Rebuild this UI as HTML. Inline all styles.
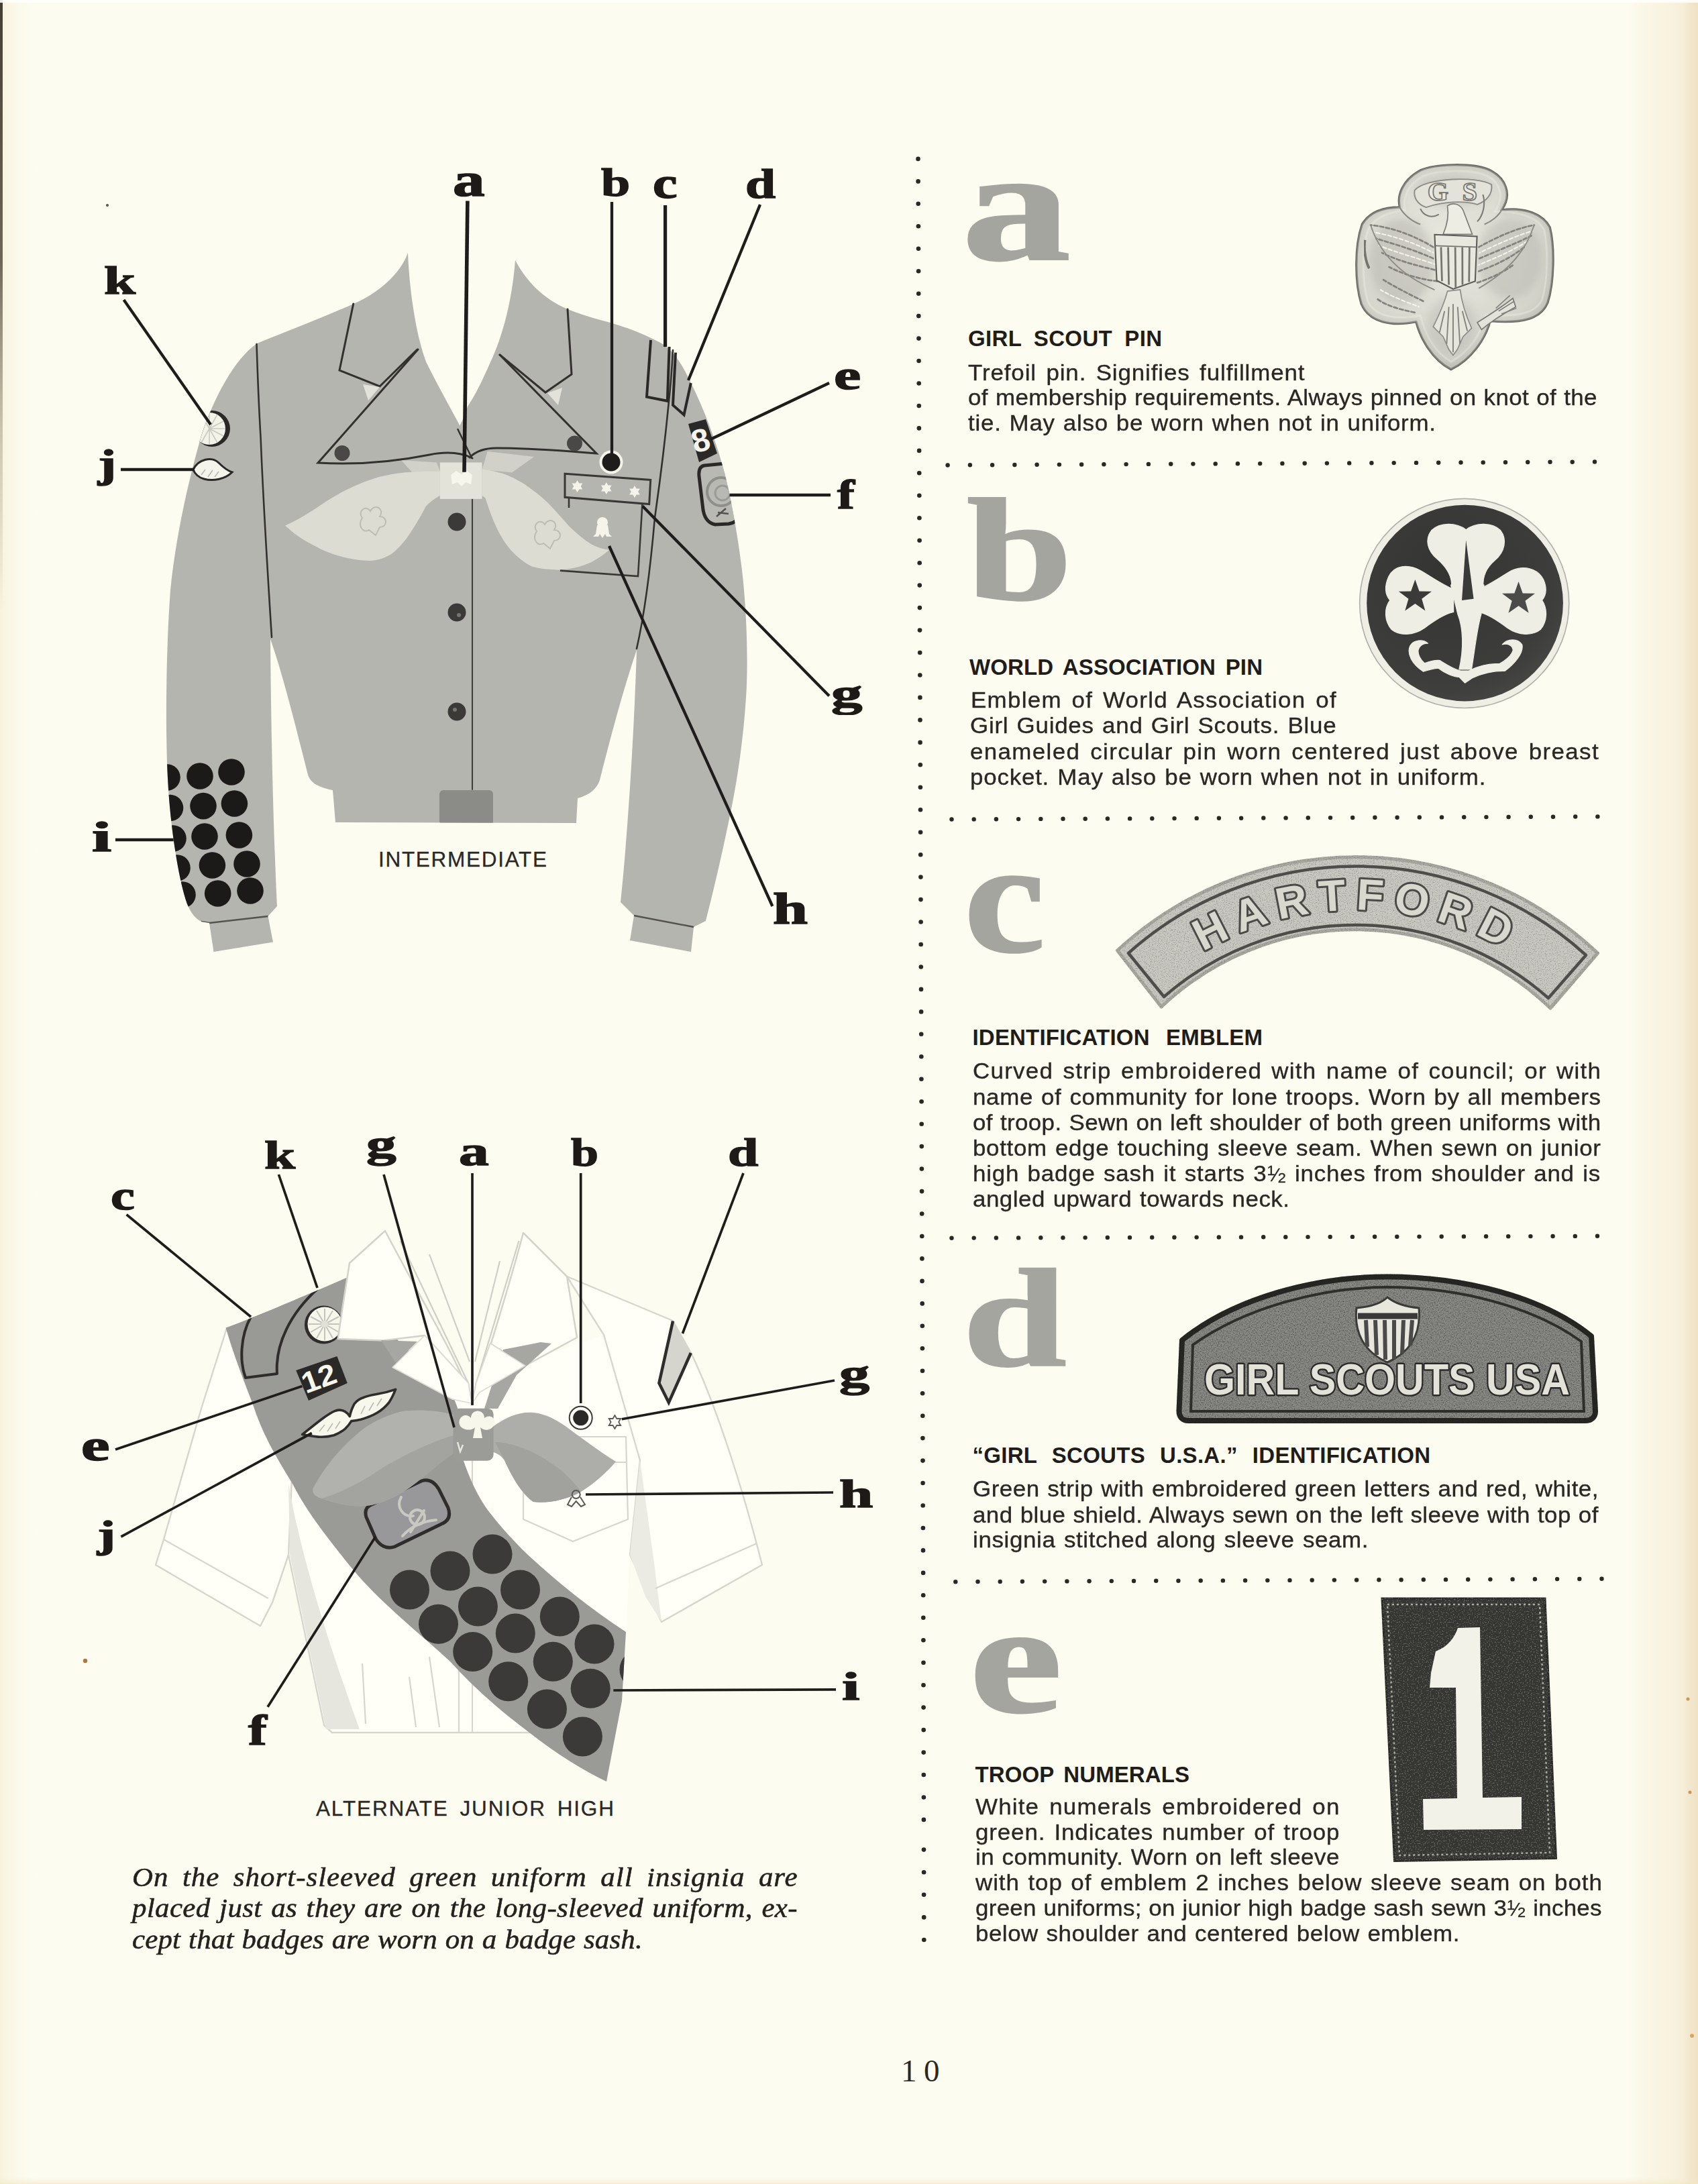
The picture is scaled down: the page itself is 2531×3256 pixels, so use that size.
<!DOCTYPE html>
<html><head><meta charset="utf-8"><title>Insignia page 10</title>
<style>
html,body{margin:0;padding:0;}
body{width:2531px;height:3256px;overflow:hidden;background:#fdfcf1;position:relative;font-family:"Liberation Sans",sans-serif;color:#24211e;}
#pg{position:absolute;left:0;top:0;width:2531px;height:3256px;overflow:hidden;}
svg.art{position:absolute;left:0;top:0;}
.t{position:absolute;white-space:nowrap;line-height:1;transform-origin:0 0;}
.j{text-align:justify;text-align-last:justify;}
.b{font-family:"Liberation Sans",sans-serif;font-size:33.6px;color:#2a2724;-webkit-text-stroke:.35px #2a2724;}
.h{font-family:"Liberation Sans",sans-serif;font-weight:bold;font-size:33px;color:#1f1c1a;}
.cap{font-family:"Liberation Sans",sans-serif;font-size:31.5px;color:#2a2724;-webkit-text-stroke:.3px #2a2724;}
.it{font-family:"Liberation Serif",serif;font-style:italic;font-size:40.5px;color:#24211e;-webkit-text-stroke:.55px #24211e;}
.lab{font-family:"Liberation Serif",serif;font-weight:bold;color:#1d1a18;-webkit-text-stroke:1.6px #1d1a18;}
.big{font-family:"Liberation Serif",serif;font-weight:bold;color:#a5a5a0;-webkit-text-stroke:3px #a5a5a0;}
.pn{font-family:"Liberation Serif",serif;font-size:47px;color:#2a2724;}
</style></head>
<body><div id="pg">
<svg class="art" width="2531" height="3256" viewBox="0 0 2531 3256">
<defs>
<filter id="grain" x="0" y="0" width="100%" height="100%"><feTurbulence type="fractalNoise" baseFrequency="0.9" numOctaves="2" seed="3" result="n"/><feColorMatrix in="n" type="matrix" values="0 0 0 0 0  0 0 0 0 0  0 0 0 0 0  0.9 0.9 0.9 0 -0.95"/><feComposite in2="SourceGraphic" operator="in"/></filter>
<clipPath id="jk"><path id="jkp" d="M608,377 C596,410 562,438 527,453 C470,478 420,497 383,512 C350,535 320,590 300,650 C280,720 262,800 254,880 C248,960 246,1080 250,1160 C254,1240 268,1320 280,1350 C285,1362 292,1370 300,1374 L312,1376 L318.5,1419 L407,1404.5 L399.5,1366 L413,1351 C408,1250 404,1100 403,953 C420,1000 440,1080 459,1155 C462,1166 474,1174 496,1178 L500,1226 L859,1227 L861,1190 C880,1185 890,1175 894,1163 C905,1120 925,1040 949,969 C945,1100 935,1250 925,1345 L945,1365 L939,1402 L1030,1419 L1034,1382 L1052,1373 C1058,1350 1075,1280 1087,1221 C1100,1160 1108,1100 1112,1040 C1116,980 1112,900 1106,850 C1100,800 1090,745 1080,705 C1068,660 1050,610 1026,563 C1015,540 1002,522 988,513 C960,497 930,487 906,480 C880,473 860,467 844,460 C810,445 785,420 768,388 C764,440 752,495 731,540 C720,565 708,590 697,606 L690,625 L685.4,634.5 C668,602 650,570 635.3,540 C620,500 610,430 608,377 Z"/></clipPath>
</defs>
<defs>
 <linearGradient id="rEdge" x1="0" x2="1" y1="0" y2="0"><stop offset="0" stop-color="#fbf8e8" stop-opacity="0"/><stop offset="0.3" stop-color="#faf5e3" stop-opacity="0.85"/><stop offset="0.8" stop-color="#f7efda"/><stop offset="0.86" stop-color="#f3e9d0"/><stop offset="1" stop-color="#eee1c4"/></linearGradient>
 <linearGradient id="lEdge" x1="0" x2="0" y1="0" y2="1"><stop offset="0" stop-color="#3a352c" stop-opacity="0.95"/><stop offset="0.12" stop-color="#4a4438" stop-opacity="0.8"/><stop offset="0.2" stop-color="#7a725f" stop-opacity="0.35"/><stop offset="0.28" stop-color="#7a725f" stop-opacity="0"/></linearGradient>
 <linearGradient id="lTint" x1="0" x2="1" y1="0" y2="0"><stop offset="0" stop-color="#f7f0d8" stop-opacity="0.8"/><stop offset="1" stop-color="#fdfcf1" stop-opacity="0"/></linearGradient>
 <linearGradient id="bEdge" x1="0" x2="0" y1="0" y2="1"><stop offset="0" stop-color="#f6ecd0" stop-opacity="0"/><stop offset="1" stop-color="#f3e6c2" stop-opacity="0.9"/></linearGradient>
</defs>
<g id="bg">
 <rect x="2420" y="0" width="111" height="3256" fill="url(#rEdge)"/>
 <rect x="0" y="0" width="60" height="3256" fill="url(#lTint)"/>
 <rect x="0" y="0" width="4" height="3256" fill="url(#lEdge)"/>
 <rect x="0" y="3246" width="2531" height="10" fill="url(#bEdge)" opacity="0.7"/>
 <rect x="0" y="0" width="2531" height="4" fill="#ffffff" opacity="0.9"/>
 <!-- specks -->
 <circle cx="160" cy="306" r="2" fill="#55524c"/><circle cx="127" cy="2476" r="3.2" fill="#b9743a"/>
 <circle cx="2516" cy="2533" r="2.5" fill="#c79a55"/><circle cx="2519" cy="2672" r="2.5" fill="#c79a55"/><circle cx="2522" cy="3035" r="3" fill="#d9a860"/>
</g>
<g id="fig1">
<use href="#jkp" fill="#b5b5b0"/>
<g clip-path="url(#jk)">
 <!-- buckle -->
 <rect x="655" y="1178" width="80" height="52" rx="6" fill="#8b8b88"/>
 <!-- waistband seam shading -->
 <!-- sleeve badge dots -->
 <g fill="#1c1a19">
  <circle cx="249" cy="1159" r="19.8"/><circle cx="298" cy="1157" r="19.8"/><circle cx="345" cy="1151" r="19.8"/>
  <circle cx="253.5" cy="1204.5" r="19.8"/><circle cx="303" cy="1201.6" r="19.8"/><circle cx="349.4" cy="1198" r="19.8"/>
  <circle cx="258" cy="1250" r="19.8"/><circle cx="305" cy="1247" r="19.8"/><circle cx="356.4" cy="1245" r="19.8"/>
  <circle cx="264" cy="1294" r="19.8"/><circle cx="316.4" cy="1290" r="19.8"/><circle cx="368" cy="1288" r="19.8"/>
  <circle cx="272" cy="1334" r="19.8"/><circle cx="324.7" cy="1332" r="19.8"/><circle cx="373" cy="1328" r="19.8"/>
 </g>
 <!-- cuff seam lines -->
 <path d="M300,1374 L312,1376 L399.5,1366" stroke="#55534f" stroke-width="2.5" fill="none"/>
 <path d="M945,1365 L1034,1382" stroke="#55534f" stroke-width="2.5" fill="none"/>
 <!-- k badge (sunburst) -->
 <circle cx="316" cy="639" r="27" fill="#2b2927"/>
 <circle cx="312" cy="639" r="24" fill="#f4f3e8"/>
 <g stroke="#c9c9c2" stroke-width="1.6"><path d="M312,639 L312,615 M312,639 L324,618 M312,639 L333,628 M312,639 L336,639 M312,639 L333,650 M312,639 L324,660 M312,639 L312,663 M312,639 L300,660 M312,639 L300,618"/></g>
 <!-- f badge -->
 <path d="M1050,694 L1080,691 C1088,692 1094,700 1095,710 L1100,768 C1100,776 1094,780 1086,781 L1066,782 C1056,780 1050,772 1048,760 L1042,710 C1041,700 1044,695 1050,694 Z" fill="#b9b9b3" stroke="#2b2927" stroke-width="5"/>
 <circle cx="1075" cy="733" r="21" fill="none" stroke="#8e8e8a" stroke-width="4"/>
 <circle cx="1077" cy="735" r="11" fill="none" stroke="#9a9a96" stroke-width="3"/>
 <path d="M1068,770 L1082,758 M1070,764 L1086,766" stroke="#55534f" stroke-width="2.5"/>
</g>
<!-- seams -->
<g fill="none" stroke="#33312e" stroke-width="2.6" stroke-linecap="round" stroke-linejoin="round">
 <path d="M382.5,513 C384,560 386,610 388.6,653 C392,740 398,840 405,950"/>
 <path d="M1003,522 C1001,560 998,590 996.5,603 C992,650 982,730 976,772 C971,830 962,910 949,967"/>
 <path d="M704,743 L704,1177" stroke-width="2" stroke="#3f3d3a"/>
</g>
<!-- scarf -->
<g>
 <path d="M598,686 L651,689.5 L656,703 L614.6,704.5 Z" fill="#d2d1c9"/>
 <path d="M726.7,673 L796,681 L763,704.5 L718.5,700 Z" fill="#d2d1c9"/>
 <path d="M655.8,702.7 C640,702.5 620,703 604.7,704.3 C590,706 578,708 565,711 C548,716 533,722 519,729 C500,738 484,749 469.5,758.7 C452,770 438,778 425,783.5 C434,792 443,799 453,805 C470,815 486,823 502.5,828 C520,833 536,836 552,836 C565,835 576,831 585,824.7 C595,817 604,806 611.3,795 C620,782 628,768 634.4,755.4 C641,748 648,743 655.8,739 Z" fill="#dcdcd3"/>
 <path d="M718.5,699.4 C729,700.5 740,703 749.8,706 C761,710 772,716 782.8,722.5 C794,730 805,739 815.8,748.8 C827,760 838,773 848.8,785 C860,796 871,805 881.7,811.5 C890,816 899,819 908,819.7 C900,827 891,833 881.7,837.9 C866,845 849,849 832.3,849.4 C818,849.5 805,848 792.7,844.5 C780,838 769,829 759.7,818 C750,806 742,792 736.6,778.5 C731,766 727,753 723.4,742.2 L718.5,739 Z" fill="#dcdcd3"/>
 <rect x="655.8" y="689.5" width="62.7" height="54.4" fill="#e4e3da"/>
 <path d="M672,708 l8,-6 l8,5 l8,-5 l8,6 l-2,14 l-8,-3 l-6,6 l-6,-6 l-8,3 z" fill="#f7f6ec"/>
 <!-- trefoil motifs -->
 <g fill="none" stroke="#bdbdb6" stroke-width="2">
  <path d="M540,772 c-8,-10 6,-20 12,-10 c6,-12 22,-4 14,8 c12,0 12,16 0,16 l-6,12 l-10,-8 c-8,6 -18,-6 -10,-18 z"/>
  <path d="M800,792 c-8,-10 6,-20 12,-10 c6,-12 22,-4 14,8 c12,0 12,16 0,16 l-6,12 l-10,-8 c-8,6 -18,-6 -10,-18 z"/>
 </g>
</g>
<!-- lapels and collar wings -->
<g fill="none" stroke="#33312e" stroke-width="3" stroke-linejoin="miter" stroke-linecap="round">
 <path d="M526.7,453 L506,552 L566,576 L622,521"/>
 <path d="M846,461 L852,558 L813,585 L745,529"/>
 <path d="M623,521 L474,690 C540,694 600,686 640,678 C670,672 690,676 704,683" fill="#b5b5b0"/>
 <path d="M745,529 L889,676 C840,672 780,668 740,668 C720,668 708,674 700,682" fill="#b5b5b0"/>
 <path d="M682.4,640 L702.5,681.3" stroke-width="2.5"/>
</g>
<path d="M541,573 L566,577 L549,597 Z" fill="#e3e2da"/>
<path d="M838,578 L816,586 L832,604 Z" fill="#e3e2da"/>
<!-- collar buttons -->
<circle cx="510" cy="675.5" r="11.5" fill="#4a4846"/><circle cx="856.5" cy="661" r="11.5" fill="#4a4846"/>
<!-- front buttons -->
<g fill="#3c3a38"><circle cx="681" cy="778" r="13.5"/><circle cx="681" cy="913" r="13.5"/><circle cx="681" cy="1061" r="13.5"/></g>
<g fill="#77756f"><circle cx="684" cy="917" r="3"/><circle cx="678" cy="1058" r="3"/></g>
<!-- pocket -->
<g fill="none" stroke="#3a3835" stroke-width="2.6" stroke-linejoin="miter">
 <path d="M848,741 L848,757"/>
 <path d="M957.4,751.6 L951,859 L835,850.6"/>
 <path d="M842,706.3 L969.7,715.4 L967.7,751.6 L842,741.3 Z" fill="#b5b5b0" stroke-width="3"/>
</g>
<g fill="#f5f4ea">
 <path id="st6" d="M0,-9 L2.6,-4.5 L7.8,-4.5 L5.2,0 L7.8,4.5 L2.6,4.5 L0,9 L-2.6,4.5 L-7.8,4.5 L-5.2,0 L-7.8,-4.5 L-2.6,-4.5 Z" transform="translate(860.5,725)"/>
 <use href="#st6" x="43.3" y="3"/><use href="#st6" x="85.5" y="8"/>
 <!-- h emblem -->
 <circle cx="898" cy="779" r="8"/><path d="M890,783 L906,783 L908,796 L912,800 L904,800 L902,796 L898,802 L894,796 L892,800 L884,800 L888,796 Z"/>
</g>
<!-- b pin -->
<circle cx="911" cy="689" r="17.5" fill="#f5f4ea"/><circle cx="911" cy="689" r="13.5" fill="#1f1d1b"/>
<!-- shoulder patches c,d -->
<g fill="none" stroke="#2b2927" stroke-width="4" stroke-linejoin="miter">
 <path d="M970,507 L964,591.6 L994.8,597.8 L997.6,517"/>
 <path d="M1007,525.7 L1003,604 L1019.5,618.4 L1029.8,571"/>
</g>
<!-- 8 patch -->
<path d="M1026,632 L1052,625 L1069,676 L1042,689 Z" fill="#2b2927"/>
<text x="0" y="0" transform="translate(1036,676) rotate(-16)" font-family="Liberation Sans, sans-serif" font-weight="bold" font-size="48" fill="#f5f4ea">8</text>
<!-- j badge leaf -->
<path d="M288,700 C296,684 316,680 326,690 C334,698 340,702 346,704 C336,714 318,718 304,714 C296,712 290,706 288,700 Z" fill="#f5f4ea" stroke="#2b2927" stroke-width="3"/>
<path d="M300,708 l6,-8 M310,711 l7,-10 M320,711 l6,-8" stroke="#b9b9b3" stroke-width="1.6"/>
<!-- leader lines -->
<g stroke="#1f1d1b" stroke-width="4.3" stroke-linecap="butt" fill="none">
 <path d="M696.9,299.5 L692,703.7" stroke-width="5.6"/><path d="M912,301 L912,678"/><path d="M991.6,306 L991.6,517" stroke-width="5.2"/>
 <path d="M1133,305 L1026,567"/><path d="M1236,571 L1059,655"/><path d="M1087.5,738 L1238,738"/>
 <path d="M957.7,754.5 L1236,1037.6"/><path d="M908,814 L1151.4,1351"/>
 <path d="M172,1252 L258.7,1252"/><path d="M180,700 L290,700"/><path d="M184.5,447 L314,633"/>
</g>
</g>
<g id="fig2">
<!-- blouse body -->
<g fill="#fffff7" stroke="#d6d6ce" stroke-width="2.4" stroke-linejoin="round">
 <path d="M436,2180 L430,2318 L483,2572 L495,2583 L905,2583 L933,2436 L939,2318 L954,2177 L900,1990 L700,2060 L500,1990 Z" stroke="none"/>
 <path d="M430,2318 L483,2572 L495,2583 L905,2583" fill="none"/>
 <!-- left sleeve -->
 <path d="M338,1980 L300,2100 L244,2295 L232,2333 L388,2424 L406,2389 L430,2318 L436,2180 L425,2060 Z"/>
 <!-- right sleeve -->
 <path d="M845,1903 L1003,1969 L1030,2017 C1070,2100 1110,2230 1136,2333 L986,2418 L939,2318 L954,2177 L900,1990 Z"/>
</g>
<!-- body shadow -->
<path d="M430,2212 L432,2318 L486,2578 L536,2578 C500,2480 450,2330 430,2212 Z" fill="#e6e6df"/>
<path d="M939,2318 L962,2380 L986,2418 L975,2330 L954,2177 Z" fill="#ebebe4"/>
<!-- cuff fold lines, pocket, placket -->
<g fill="none" stroke="#d6d6ce" stroke-width="2.2">
 <path d="M244,2295 L400,2383"/><path d="M977,2368 L1128,2301"/>
 <path d="M780,2142 L933,2142 L936,2265 L854,2298 L780,2265 Z"/>
 <path d="M780,2180 L934,2180"/>
 <path d="M704,2170 L704,2583"/><path d="M684,2200 L684,2583"/>
 <path d="M540,2480 L545,2570 M640,2470 L655,2575 M610,2500 L620,2575"/>
</g>
<!-- sash -->
<defs><clipPath id="sashc"><path id="sashp" d="M336.6,1979.6 C390,1960 470,1925 521,1903 C545,1950 600,2010 650,2050 C680,2075 694,2120 690,2175 C700,2205 712,2230 726,2250 C745,2275 765,2297 789,2320 C830,2358 880,2398 933,2433 L927,2536 L904,2656 C870,2640 830,2615 789,2583 C745,2550 705,2515 671,2477 C620,2430 565,2388 522,2335 C486,2290 458,2255 436,2212 C410,2170 390,2135 377,2094 C360,2050 345,2010 336.6,1979.6 Z"/></clipPath></defs>
<use href="#sashp" fill="#9a9a96"/>
<g clip-path="url(#sashc)">
 <!-- curved strip -->
 <path d="M374,1963 C358,1992 357,2030 366,2054 L413,2048 C410,2005 432,1958 475,1920 L440,1930 Z" fill="#999995" stroke="#2f2d2b" stroke-width="4" stroke-linejoin="round"/>
 <!-- f badge -->
 <path d="M552,2244 L628,2208 C640,2204 648,2210 654,2220 L668,2248 C672,2260 668,2268 658,2272 L588,2306 C576,2310 566,2304 560,2294 L546,2262 C543,2252 546,2247 552,2244 Z" fill="#98989a" stroke="#2f2d2b" stroke-width="5"/>
 <g fill="none" stroke="#c9c9c2" stroke-width="4" stroke-linecap="round">
  <path d="M598,2232 C590,2246 600,2262 616,2260"/><circle cx="622" cy="2262" r="11"/><path d="M600,2290 C612,2276 630,2268 650,2266"/><path d="M612,2284 L632,2252"/>
 </g>
 <!-- dots -->
 <g fill="#3b3a38">
  <circle cx="734" cy="2317" r="29.5"/><circle cx="671" cy="2342" r="29.5"/><circle cx="610.5" cy="2370" r="29.5"/>
  <circle cx="775.5" cy="2370" r="29.5"/><circle cx="712.4" cy="2395" r="29.5"/><circle cx="653.5" cy="2421.3" r="29.5"/>
  <circle cx="834.3" cy="2410" r="29.5"/><circle cx="768.3" cy="2435" r="29.5"/><circle cx="704.7" cy="2462.5" r="29.5"/>
  <circle cx="886" cy="2451" r="29.5"/><circle cx="824.3" cy="2477.3" r="29.5"/><circle cx="757.7" cy="2506.7" r="29.5"/>
  <circle cx="880.2" cy="2517.3" r="29.5"/><circle cx="815.4" cy="2548" r="29.5"/><circle cx="868.4" cy="2589" r="29.5"/>
  <circle cx="953" cy="2489" r="29.5"/>
 </g>
</g>
<!-- round badge k -->
<circle cx="482.4" cy="1975" r="28.5" fill="#2f2d2b"/><circle cx="484" cy="1974" r="25.5" fill="#f8f7ec"/>
<g stroke="#c4c4bc" stroke-width="2"><path d="M484,1974 L484,1951 M484,1974 L496,1954 M484,1974 L505,1963 M484,1974 L508,1974 M484,1974 L505,1986 M484,1974 L496,1995 M484,1974 L484,1998 M484,1974 L472,1995 M484,1974 L463,1986 M484,1974 L460,1974 M484,1974 L463,1963 M484,1974 L472,1954"/></g>
<circle cx="484" cy="1974" r="5" fill="#e2e1d8"/>
<!-- 12 patch -->
<path d="M441.2,2043 L502.4,2022 L517.8,2062 L460,2088 Z" fill="#2b2927"/><text transform="translate(456,2078) rotate(-20)" font-family="Liberation Sans, sans-serif" font-weight="bold" font-size="44" textLength="52" lengthAdjust="spacingAndGlyphs" fill="#f8f7ec">12</text>
<!-- wings j -->
<path d="M450.6,2138.6 C460,2131 470,2123 478.9,2116.2 C486,2111 493,2106 500.1,2103.2 C505,2101.5 510,2102 514.2,2104.4 C517,2106 519.5,2108.5 521.3,2111.5 C523,2104 525.5,2097.5 528.4,2092.6 C532,2088 537,2085 542.5,2083.2 C548,2081 555,2079.5 561.3,2078.5 C571,2077 581,2074.5 589.6,2071.4 C587,2078 584,2084.5 580.2,2090.3 C575,2097 568.5,2102.5 561.3,2106.8 C554,2111 546,2114 537.8,2116.2 C533,2117.3 528,2118 523.7,2118.6 C521,2123 518,2127 514.2,2130.3 C509,2134.5 503.5,2137.7 497.7,2139.8 C490,2142 482,2142.7 474.2,2142.1 C466,2141.5 458,2140.2 450.6,2138.6 Z" fill="#f8f7ec" stroke="#2f2d2b" stroke-width="3.6" stroke-linejoin="round"/>
<g stroke="#b9b9b2" stroke-width="1.6" fill="none"><path d="M476,2134 l8,-10 M488,2134 l8,-12 M500,2130 l7,-11 M538,2108 l6,-12 M550,2103 l7,-12 M562,2096 l7,-11"/></g>
<!-- collars (white, over sash) -->
<g fill="#fffff7" stroke="#d3d3cb" stroke-width="2.5" stroke-linejoin="round">
 <path d="M574,1835 L521,1883 L512,1940 L503.6,1996 L571,1998.5 L633,1991 L698,2062 L703,2092 C690,2040 640,1960 574,1835 Z"/>
 <path d="M780,1838 L845,1903 L860,1994 L782.8,2036 L731,2003 L709.8,2062 L704,2092 C720,2040 750,1950 780,1838 Z"/>
</g>
<!-- neck lines -->
<g fill="none" stroke="#cfcfc7" stroke-width="2.2"><path d="M596.7,1850 L698,2062 L703,2092"/><path d="M773.4,1850 L709.8,2062 L704,2092"/><path d="M640,1870 L700,2030"/><path d="M745,1880 L708,2030"/></g>
<!-- scarf upper bands -->
<path d="M568,1998 L622,2000 L590,2032 Z" fill="#a6a6a2"/>
<path d="M750,2012 L806,2001 L822,2003 L770,2050 L742,2100 L722,2100 Z" fill="#a6a6a2"/>
<!-- collar wings (white kites) -->
<g fill="#fffff7" stroke="#dcdcd4" stroke-width="1.5" stroke-linejoin="round">
 <path d="M633,1991 L585,2038.5 L674,2086 L703,2092 L698,2062 Z"/>
 <path d="M731,2003 L782.8,2036 L714.5,2076 L704,2092 L709.8,2062 Z"/>
</g>
<!-- scarf -->
<g>
 <path d="M676,2109 C650,2102 620,2101 597,2104.5 C570,2112 552,2122 538,2133 C505,2160 482,2190 467,2218 C464,2226 470,2232 480,2234 C505,2243 528,2248 553,2244 C590,2236 615,2215 636,2198 C655,2182 668,2172 678,2165 Z" fill="#b1b1ad"/>
 <path d="M676,2140 C640,2150 590,2175 560,2195 C530,2215 500,2228 480,2234 C505,2243 528,2248 553,2244 C590,2236 615,2215 636,2198 C655,2182 668,2172 678,2165 Z" fill="#a3a39f"/>
 <path d="M733,2128 C755,2112 775,2104 795,2106 C815,2108 832,2118 848,2130 C870,2146 895,2165 918,2179 C905,2195 885,2212 866,2224 C845,2236 815,2242 795,2239 C775,2225 760,2195 752,2177 C745,2168 738,2165 733,2165 Z" fill="#adada9"/>
 <path d="M738,2150 C770,2150 810,2170 840,2195 C850,2205 860,2215 866,2224 C845,2236 815,2242 795,2239 C775,2225 760,2195 752,2177 Z" fill="#a1a19d"/>
 <rect x="675.6" y="2099.7" width="60" height="78" rx="9" fill="#9b9b97"/>
 <path d="M686,2126 c-6,-12 8,-22 16,-12 c0,-14 20,-14 20,0 c10,-8 22,4 12,14 c-6,6 -14,4 -18,0 l3,16 l-14,0 l3,-16 c-6,6 -18,4 -22,-2 z" fill="#f8f7ec"/>
 <path d="M682,2150 l4,14 l4,-10" stroke="#e8e7de" stroke-width="2.5" fill="none"/>
</g>
<!-- d strip -->
<path d="M1003,1969.5 L1029.8,2017 L996.8,2091 L982.4,2062 Z" fill="#d5d5cd"/>
<path d="M1003,1969.5 L982.4,2062 L996.8,2091 L1029.8,2017" fill="none" stroke="#2f2d2b" stroke-width="4.5" stroke-linejoin="miter"/>
<!-- b pin, star, h emblem -->
<circle cx="865.7" cy="2113.8" r="17" fill="#fffff7" stroke="#3a3836" stroke-width="2"/><circle cx="865.7" cy="2113.8" r="11.5" fill="#2b2927"/>
<path d="M0,-10 L2.9,-5 L8.7,-5 L5.8,0 L8.7,5 L2.9,5 L0,10 L-2.9,5 L-8.7,5 L-5.8,0 L-8.7,-5 L-2.9,-5 Z" transform="translate(916.4,2120)" fill="#fffff7" stroke="#5a5855" stroke-width="1.8"/>
<g fill="none" stroke="#5a5855" stroke-width="2"><circle cx="858.7" cy="2228" r="6"/><path d="M852,2232 L846,2243 L852,2246 L858.7,2238 L866,2246 L872,2243 L865,2232"/></g>
<!-- leader lines -->
<g stroke="#1f1d1b" stroke-width="3.7" fill="none">
 <path d="M188.6,1810.8 L374,1963.3"/><path d="M415.4,1751 L473,1920"/><path d="M572,1751 L677,2128"/>
 <path d="M704,1749 L704,2095"/><path d="M865.7,1749 L865.7,2092"/><path d="M1108,1749 L1017.4,1988"/>
 <path d="M1244,2058 L926.7,2115.8"/><path d="M873,2228 L1242,2225"/><path d="M914.4,2520 L1246,2518.8"/>
 <path d="M399,2544.8 L559.7,2291"/><path d="M180.4,2291 L464.8,2136.5"/><path d="M172,2161 L450.4,2066.4"/>
</g>
</g>
<g id="photos">
<defs>
 <radialGradient id="pinG" cx="0.45" cy="0.4" r="0.7"><stop offset="0" stop-color="#e9e8df"/><stop offset="0.7" stop-color="#d6d6cd"/><stop offset="1" stop-color="#bdbdb5"/></radialGradient>
 <radialGradient id="wpG" cx="0.4" cy="0.35" r="0.8"><stop offset="0" stop-color="#343433"/><stop offset="0.7" stop-color="#3d3d3b"/><stop offset="1" stop-color="#4c4c49"/></radialGradient>
 <filter id="soft"><feGaussianBlur stdDeviation="1.2"/></filter>
 <filter id="soft3" x="-20%" y="-20%" width="140%" height="140%"><feGaussianBlur stdDeviation="28"/></filter>
 <filter id="soft2"><feGaussianBlur stdDeviation="0.7"/></filter>
 <filter id="fab" x="-5%" y="-5%" width="110%" height="110%"><feTurbulence type="fractalNoise" baseFrequency="0.55" numOctaves="2" seed="7" result="n"/><feColorMatrix in="n" type="matrix" values="0 0 0 0 0  0 0 0 0 0  0 0 0 0 0  1.6 0 0 0 -0.62" result="a"/><feComposite in="a" in2="SourceAlpha" operator="in" result="g"/><feFlood flood-color="#2a2a28" result="c"/><feComposite in="c" in2="g" operator="in" result="dk"/><feMerge><feMergeNode in="SourceGraphic"/><feMergeNode in="dk"/></feMerge></filter>
 <filter id="fabL" x="-5%" y="-5%" width="110%" height="110%"><feTurbulence type="fractalNoise" baseFrequency="0.6" numOctaves="2" seed="11" result="n"/><feColorMatrix in="n" type="matrix" values="0 0 0 0 0  0 0 0 0 0  0 0 0 0 0  1.5 0 0 0 -0.7" result="a"/><feComposite in="a" in2="SourceAlpha" operator="in" result="g"/><feFlood flood-color="#55554f" result="c"/><feComposite in="c" in2="g" operator="in" result="dk"/><feMerge><feMergeNode in="SourceGraphic"/><feMergeNode in="dk"/></feMerge></filter>
 <filter id="fabW" x="-5%" y="-5%" width="110%" height="110%"><feTurbulence type="fractalNoise" baseFrequency="0.5" numOctaves="2" seed="5" result="n"/><feColorMatrix in="n" type="matrix" values="0 0 0 0 0  0 0 0 0 0  0 0 0 0 0  1.8 0 0 0 -0.95" result="a"/><feComposite in="a" in2="SourceAlpha" operator="in" result="g"/><feFlood flood-color="#8a8a86" result="c"/><feComposite in="c" in2="g" operator="in" result="lt"/><feMerge><feMergeNode in="SourceGraphic"/><feMergeNode in="lt"/></feMerge></filter>
</defs>

<!-- (a) trefoil pin : coordinates in 4.7167x zoom space -->
<g transform="translate(1990,220) scale(0.21201)">
 <path id="tref" d="M455,420 C435,340 470,230 600,160 C700,115 960,105 1080,155 C1200,210 1250,330 1170,440 C1300,420 1450,450 1510,560 C1545,700 1540,950 1495,1090 C1450,1200 1330,1240 1090,1220 C1060,1340 960,1490 815,1560 C680,1490 600,1340 570,1225 C400,1260 240,1230 185,1100 C140,950 135,700 190,540 C250,440 370,420 455,420 Z" fill="url(#pinG)" stroke="#6f6d68" stroke-width="16" stroke-linejoin="round"/>
 <path d="M490,440 C475,350 510,260 620,200 C720,160 950,150 1060,195 C1160,240 1195,340 1125,450 C1280,450 1420,480 1470,580 C1500,720 1495,940 1455,1070 C1410,1160 1300,1195 1060,1175 C1030,1310 940,1440 815,1505 C700,1440 630,1310 600,1180 C430,1215 280,1190 230,1080 C190,940 185,720 235,570 C290,480 390,455 490,440 Z" fill="none" stroke="#f3f2e9" stroke-width="14" opacity="0.8"/>
 <clipPath id="trefc"><use href="#tref"/></clipPath>
 <g clip-path="url(#trefc)">
  <use href="#tref" fill="none" stroke="#8f8d88" stroke-width="60" opacity="0.55" filter="url(#soft3)"/>
  <ellipse cx="470" cy="800" rx="230" ry="300" fill="#a3a19c" opacity="0.35" filter="url(#soft3)"/>
  <ellipse cx="1230" cy="780" rx="230" ry="280" fill="#a3a19c" opacity="0.3" filter="url(#soft3)"/>
  <ellipse cx="830" cy="300" rx="260" ry="110" fill="#a3a19c" opacity="0.3" filter="url(#soft3)"/>
  <ellipse cx="820" cy="1250" rx="170" ry="200" fill="#a3a19c" opacity="0.25" filter="url(#soft3)"/>
 </g>
 <path d="M1170,440 C1150,480 1100,520 1050,540 M455,420 C480,470 540,520 600,540" fill="none" stroke="#8d8b86" stroke-width="10"/>
 <!-- banner + GS -->
 <path d="M560,300 C640,210 1000,200 1100,260 C1110,330 1060,380 1000,400 C900,370 760,380 640,420 C580,400 550,350 560,300 Z" fill="#e4e3da" stroke="#8d8b86" stroke-width="9"/>
 <text x="650" y="375" font-family="Liberation Serif, serif" font-weight="bold" font-size="190" fill="#ecebe2" stroke="#77756f" stroke-width="8" textLength="350">GS</text>
 <path d="M1040,330 C1060,400 1040,480 1000,520" fill="none" stroke="#7d7b76" stroke-width="10"/>
 <path d="M600,430 C620,480 680,500 730,470" fill="none" stroke="#7d7b76" stroke-width="10"/>
 <!-- eagle head/neck -->
 <path d="M790,410 C830,380 880,400 900,440 L965,610 L760,610 C790,540 800,470 790,410 Z" fill="#eeede4" stroke="#7d7b76" stroke-width="8"/>
 <!-- wings -->
 <g fill="none" stroke="#85837e" stroke-width="13" stroke-linecap="round" stroke-dasharray="26 16">
  <path d="M690,700 C560,620 400,560 250,545"/><path d="M690,780 C560,720 420,680 290,640"/><path d="M700,860 C580,830 450,800 330,740"/><path d="M720,940 C620,930 500,900 380,840"/>
  <path d="M620,1080 C520,1030 420,980 340,930"/><path d="M560,1160 C470,1140 370,1120 290,1060"/>
  <path d="M1010,700 C1120,640 1260,570 1400,545"/><path d="M1015,780 C1130,730 1260,680 1380,620"/><path d="M1010,870 C1120,830 1230,780 1330,700"/><path d="M1000,950 C1090,920 1180,880 1260,820"/>
 </g>
 <g fill="none" stroke="#f4f3ea" stroke-width="10" stroke-linecap="round" stroke-dasharray="26 16" stroke-dashoffset="20">
  <path d="M690,740 C560,670 410,620 270,595"/><path d="M700,820 C570,775 440,740 310,690"/><path d="M590,1120 C500,1085 400,1050 320,1000"/>
  <path d="M1015,740 C1130,685 1260,625 1390,585"/><path d="M1010,825 C1120,780 1240,730 1350,660"/>
 </g>
 <path d="M250,545 C300,700 420,880 700,1000 M1400,545 C1350,700 1250,850 1010,990" fill="none" stroke="#8d8b86" stroke-width="9"/>
 <!-- shield -->
 <path d="M700,612 L998,625 L985,940 L830,995 L715,935 Z" fill="#e9e8df" stroke="#5f5d59" stroke-width="10"/>
 <g stroke="#76746f" stroke-width="13"><path d="M745,700 L752,940 M795,700 L800,965 M845,700 L848,985 M895,700 L896,965 M945,700 L942,945"/></g>
 <path d="M705,690 L995,700" stroke="#76746f" stroke-width="8"/>
 <!-- legs / tail / arrows -->
 <path d="M790,1010 C770,1090 730,1180 690,1260 L760,1330 L800,1420 L830,1460 L860,1420 L900,1330 L960,1270 C920,1180 890,1090 880,1000 Z" fill="#e6e5dc" stroke="#8d8b86" stroke-width="8"/>
 <g stroke="#85837e" stroke-width="9" fill="none"><path d="M830,1100 L830,1440 M800,1120 L785,1380 M862,1120 L878,1380 M770,1150 L735,1300 M895,1150 L930,1290"/></g>
 <path d="M1000,1230 C1080,1180 1160,1130 1250,1060 L1270,1120 C1180,1170 1100,1220 1030,1280 Z" fill="#e4e3da" stroke="#7d7b76" stroke-width="8"/>
 <g stroke="#85837e" stroke-width="8"><path d="M1130,1130 L1230,1040 M1150,1150 L1260,1080 M1170,1170 L1275,1130"/></g>
 <path d="M210,650 C200,720 215,800 240,850" fill="none" stroke="#77756f" stroke-width="18" filter="url(#soft)"/>
</g>

<!-- (b) world association pin : coordinates in 4.8514x zoom space -->
<g transform="translate(2010,730) scale(0.20613)">
 <circle cx="838" cy="822" r="757" fill="#efeee5" stroke="#b1b0a9" stroke-width="8"/>
 <circle cx="842" cy="820" r="710" fill="url(#wpG)"/>
 <g fill="#efeee4" stroke="#efeee4" stroke-width="6" stroke-linejoin="round">
  <!-- top lobe -->
  <path d="M745,700 C750,640 720,570 640,500 C570,440 550,360 600,295 C660,235 780,235 850,290 C920,235 1040,235 1100,295 C1150,360 1130,450 1060,510 C990,570 970,640 975,700 Z"/>
  <!-- right lobe -->
  <path d="M940,720 C1020,690 1100,630 1180,585 C1270,545 1370,570 1410,650 C1440,720 1425,770 1400,800 C1440,860 1440,950 1390,1010 C1330,1060 1230,1055 1150,1000 C1080,950 1010,900 940,885 Z"/>
  <!-- left lobe -->
  <path d="M760,720 C680,690 600,630 520,585 C430,535 330,545 290,630 C255,710 270,765 300,800 C255,860 260,950 310,1010 C370,1060 470,1055 550,1000 C620,950 690,900 760,885 Z"/>
  <!-- center + stem -->
  <path d="M740,690 L980,690 L960,900 C930,1000 915,1150 890,1300 L800,1300 C835,1150 830,1000 790,900 Z"/>
  <!-- base scroll -->
  <path d="M575,1112 C540,1080 470,1085 445,1130 C420,1190 460,1260 540,1315 C590,1300 630,1290 650,1292 C700,1330 760,1355 800,1355 L842,1398 L900,1360 C990,1320 1070,1310 1130,1312 C1200,1260 1270,1180 1255,1120 C1225,1075 1150,1075 1112,1120 C1150,1110 1185,1125 1190,1160 C1180,1200 1130,1240 1090,1260 C1020,1255 940,1275 870,1310 L810,1310 C760,1300 700,1260 660,1235 C620,1230 580,1245 550,1255 C520,1230 500,1190 505,1160 C515,1125 545,1110 575,1112 Z"/>
 </g>
 <g fill="#3a3a39">
  <path d="M850,365 L905,790 L820,800 Z"/>
  <path id="st5" d="M0,-125 L30,-40 L119,-39 L48,14 L73,101 L0,50 L-73,101 L-48,14 L-119,-39 L-30,-40 Z" transform="translate(482,775)"/>
  <use href="#st5" x="748" y="15" fill="#4b4b49"/>
 </g>
</g>

<!-- (c) HARTFORD arc : center (2022,1803) R 524/420 -->
<g>
 <path id="arcband" d="M1665.5,1417 A524,524 0 0 1 2381.5,1421 L2311,1503 A420,420 0 0 0 1731,1501 Z" fill="#c9c9c2" stroke="#a9a9a2" stroke-width="5" stroke-linejoin="round" filter="url(#fabL)"/>
 <path d="M1682,1421 A509,509 0 0 1 2364,1424 L2308,1488 A434,434 0 0 0 1735,1486 Z" fill="none" stroke="#4e4e4a" stroke-width="4.5" stroke-linejoin="round" filter="url(#soft2)"/>
 <path id="arctxt" d="M1693,1500.6 A447,447 0 0 1 2352,1502.5" fill="none"/>
 <text font-family="Liberation Sans, sans-serif" font-weight="bold" font-size="66" fill="#d9d8cf" stroke="#4a4a46" stroke-width="6" stroke-linejoin="round" paint-order="stroke" letter-spacing="14"><textPath href="#arctxt" startOffset="50%" text-anchor="middle">HARTFORD</textPath></text>
</g>

<!-- (d) GIRL SCOUTS USA patch -->
<g>
 <path d="M1772,2118 C1762,2118 1757.5,2112 1757.5,2104 L1762,1998 C1840,1935 1960,1903.5 2068,1903.5 C2180,1903.5 2300,1933 2372,1992 L2378,2104 C2378,2113 2372,2118 2362,2118 Z" fill="#8b8b87" stroke="#262624" stroke-width="8" stroke-linejoin="round" filter="url(#fab)"/>
 <path d="M1775,2104 L1778,2005 C1855,1950 1968,1919 2068,1919 C2172,1919 2284,1947 2357,2000 L2361,2104 Z" fill="none" stroke="#2e2e2c" stroke-width="4" filter="url(#soft2)"/>
 <text x="1795" y="2079" font-family="Liberation Sans, sans-serif" font-weight="bold" font-size="64" fill="#e3e2d9" stroke="#2a2a28" stroke-width="5" stroke-linejoin="round" paint-order="stroke" textLength="545" lengthAdjust="spacingAndGlyphs">GIRL SCOUTS USA</text>
 <path d="M2022,1950 C2045,1948 2060,1942 2068,1934 C2078,1942 2092,1948 2115,1950 C2118,1985 2105,2015 2068,2031 C2032,2015 2018,1985 2022,1950 Z" fill="#e8e7de" stroke="#3a3a38" stroke-width="3"/>
 <path d="M2024,1962 L2113,1962" stroke="#3a3a38" stroke-width="9"/>
 <g stroke="#4a4a48" stroke-width="6"><path d="M2036,1968 L2038,2008 M2050,1968 L2052,2020 M2064,1968 L2065,2027 M2078,1968 L2078,2026 M2092,1968 L2090,2018 M2105,1968 L2102,2006"/></g>
</g>

<!-- (e) troop numeral patch -->
<g>
 <path d="M2060,2383 L2303,2383 L2319.5,2770.5 L2078.5,2774.5 Z" fill="#343432" stroke="#2a2a28" stroke-width="3" filter="url(#fabW)"/>
 <path d="M2068,2392 L2295,2392 L2310,2762 L2086,2766 Z" fill="none" stroke="#a9a9a3" stroke-width="2.5" stroke-dasharray="3 4"/>
 <path d="M2173,2427 L2206,2426 L2210,2680 L2268,2679 L2268,2727 L2122,2728 L2121,2682 L2172,2681 L2170,2516 L2131,2516 L2133,2494 L2140,2462 C2158,2455 2168,2442 2173,2427 Z" fill="#f3f2e9"/>
</g>
</g>
<g fill="#2a2826">
<circle cx="1368.5" cy="236.9" r="3.3"/>
<circle cx="1368.6" cy="270.4" r="3.3"/>
<circle cx="1368.7" cy="303.8" r="3.3"/>
<circle cx="1368.9" cy="337.3" r="3.3"/>
<circle cx="1369.0" cy="370.7" r="3.3"/>
<circle cx="1369.1" cy="404.2" r="3.3"/>
<circle cx="1369.2" cy="437.7" r="3.3"/>
<circle cx="1369.3" cy="471.1" r="3.3"/>
<circle cx="1369.5" cy="504.6" r="3.3"/>
<circle cx="1369.6" cy="538.0" r="3.3"/>
<circle cx="1369.7" cy="571.5" r="3.3"/>
<circle cx="1369.8" cy="605.0" r="3.3"/>
<circle cx="1369.9" cy="638.4" r="3.3"/>
<circle cx="1370.1" cy="671.9" r="3.3"/>
<circle cx="1370.2" cy="705.3" r="3.3"/>
<circle cx="1370.3" cy="738.8" r="3.3"/>
<circle cx="1370.4" cy="772.3" r="3.3"/>
<circle cx="1370.6" cy="805.7" r="3.3"/>
<circle cx="1370.7" cy="839.2" r="3.3"/>
<circle cx="1370.8" cy="872.6" r="3.3"/>
<circle cx="1370.9" cy="906.1" r="3.3"/>
<circle cx="1371.0" cy="939.6" r="3.3"/>
<circle cx="1371.2" cy="973.0" r="3.3"/>
<circle cx="1371.3" cy="1006.5" r="3.3"/>
<circle cx="1371.4" cy="1039.9" r="3.3"/>
<circle cx="1371.5" cy="1073.4" r="3.3"/>
<circle cx="1371.6" cy="1106.9" r="3.3"/>
<circle cx="1371.8" cy="1140.3" r="3.3"/>
<circle cx="1371.9" cy="1173.8" r="3.3"/>
<circle cx="1372.0" cy="1207.2" r="3.3"/>
<circle cx="1372.1" cy="1240.7" r="3.3"/>
<circle cx="1372.2" cy="1274.2" r="3.3"/>
<circle cx="1372.4" cy="1307.6" r="3.3"/>
<circle cx="1372.5" cy="1341.1" r="3.3"/>
<circle cx="1372.6" cy="1374.5" r="3.3"/>
<circle cx="1372.7" cy="1408.0" r="3.3"/>
<circle cx="1372.8" cy="1441.5" r="3.3"/>
<circle cx="1373.0" cy="1474.9" r="3.3"/>
<circle cx="1373.1" cy="1508.4" r="3.3"/>
<circle cx="1373.2" cy="1541.8" r="3.3"/>
<circle cx="1373.3" cy="1575.3" r="3.3"/>
<circle cx="1373.4" cy="1608.8" r="3.3"/>
<circle cx="1373.6" cy="1642.2" r="3.3"/>
<circle cx="1373.7" cy="1675.7" r="3.3"/>
<circle cx="1373.8" cy="1709.1" r="3.3"/>
<circle cx="1373.9" cy="1742.6" r="3.3"/>
<circle cx="1374.1" cy="1776.1" r="3.3"/>
<circle cx="1374.2" cy="1809.5" r="3.3"/>
<circle cx="1374.3" cy="1843.0" r="3.3"/>
<circle cx="1374.4" cy="1876.4" r="3.3"/>
<circle cx="1374.5" cy="1909.9" r="3.3"/>
<circle cx="1374.7" cy="1943.4" r="3.3"/>
<circle cx="1374.8" cy="1976.8" r="3.3"/>
<circle cx="1374.9" cy="2010.3" r="3.3"/>
<circle cx="1375.0" cy="2043.7" r="3.3"/>
<circle cx="1375.1" cy="2077.2" r="3.3"/>
<circle cx="1375.3" cy="2110.7" r="3.3"/>
<circle cx="1375.4" cy="2144.1" r="3.3"/>
<circle cx="1375.5" cy="2177.6" r="3.3"/>
<circle cx="1375.6" cy="2211.0" r="3.3"/>
<circle cx="1375.7" cy="2244.5" r="3.3"/>
<circle cx="1375.9" cy="2278.0" r="3.3"/>
<circle cx="1376.0" cy="2311.4" r="3.3"/>
<circle cx="1376.1" cy="2344.9" r="3.3"/>
<circle cx="1376.2" cy="2378.3" r="3.3"/>
<circle cx="1376.3" cy="2411.8" r="3.3"/>
<circle cx="1376.4" cy="2445.3" r="3.3"/>
<circle cx="1376.5" cy="2478.7" r="3.3"/>
<circle cx="1376.5" cy="2512.2" r="3.3"/>
<circle cx="1376.6" cy="2545.6" r="3.3"/>
<circle cx="1376.7" cy="2579.1" r="3.3"/>
<circle cx="1376.7" cy="2612.6" r="3.3"/>
<circle cx="1376.8" cy="2646.0" r="3.3"/>
<circle cx="1376.9" cy="2679.5" r="3.3"/>
<circle cx="1376.9" cy="2712.9" r="3.3"/>
<circle cx="1377.0" cy="2757.6" r="3.3"/>
<circle cx="1377.1" cy="2791.2" r="3.3"/>
<circle cx="1377.1" cy="2824.8" r="3.3"/>
<circle cx="1377.2" cy="2858.4" r="3.3"/>
<circle cx="1377.3" cy="2892.0" r="3.3"/>
<circle cx="1412.6" cy="693.5" r="3.2"/>
<circle cx="1445.9" cy="693.3" r="3.2"/>
<circle cx="1479.1" cy="693.2" r="3.2"/>
<circle cx="1512.4" cy="693.0" r="3.2"/>
<circle cx="1545.6" cy="692.8" r="3.2"/>
<circle cx="1578.9" cy="692.6" r="3.2"/>
<circle cx="1612.1" cy="692.5" r="3.2"/>
<circle cx="1645.4" cy="692.3" r="3.2"/>
<circle cx="1678.6" cy="692.1" r="3.2"/>
<circle cx="1711.9" cy="691.9" r="3.2"/>
<circle cx="1745.2" cy="691.8" r="3.2"/>
<circle cx="1778.4" cy="691.6" r="3.2"/>
<circle cx="1811.7" cy="691.4" r="3.2"/>
<circle cx="1844.9" cy="691.3" r="3.2"/>
<circle cx="1878.2" cy="691.1" r="3.2"/>
<circle cx="1911.4" cy="690.9" r="3.2"/>
<circle cx="1944.7" cy="690.7" r="3.2"/>
<circle cx="1977.9" cy="690.6" r="3.2"/>
<circle cx="2011.2" cy="690.4" r="3.2"/>
<circle cx="2044.4" cy="690.2" r="3.2"/>
<circle cx="2077.7" cy="690.1" r="3.2"/>
<circle cx="2111.0" cy="689.9" r="3.2"/>
<circle cx="2144.2" cy="689.7" r="3.2"/>
<circle cx="2177.5" cy="689.5" r="3.2"/>
<circle cx="2210.7" cy="689.4" r="3.2"/>
<circle cx="2244.0" cy="689.2" r="3.2"/>
<circle cx="2277.2" cy="689.0" r="3.2"/>
<circle cx="2310.5" cy="688.8" r="3.2"/>
<circle cx="2343.7" cy="688.7" r="3.2"/>
<circle cx="2377.0" cy="688.5" r="3.2"/>
<circle cx="1418.5" cy="1221.5" r="3.2"/>
<circle cx="1451.7" cy="1221.4" r="3.2"/>
<circle cx="1484.9" cy="1221.2" r="3.2"/>
<circle cx="1518.1" cy="1221.1" r="3.2"/>
<circle cx="1551.3" cy="1220.9" r="3.2"/>
<circle cx="1584.5" cy="1220.8" r="3.2"/>
<circle cx="1617.7" cy="1220.7" r="3.2"/>
<circle cx="1650.9" cy="1220.5" r="3.2"/>
<circle cx="1684.1" cy="1220.4" r="3.2"/>
<circle cx="1717.3" cy="1220.2" r="3.2"/>
<circle cx="1750.5" cy="1220.1" r="3.2"/>
<circle cx="1783.7" cy="1219.9" r="3.2"/>
<circle cx="1816.9" cy="1219.8" r="3.2"/>
<circle cx="1850.1" cy="1219.7" r="3.2"/>
<circle cx="1883.3" cy="1219.5" r="3.2"/>
<circle cx="1916.6" cy="1219.4" r="3.2"/>
<circle cx="1949.8" cy="1219.2" r="3.2"/>
<circle cx="1983.0" cy="1219.1" r="3.2"/>
<circle cx="2016.2" cy="1219.0" r="3.2"/>
<circle cx="2049.4" cy="1218.8" r="3.2"/>
<circle cx="2082.6" cy="1218.7" r="3.2"/>
<circle cx="2115.8" cy="1218.5" r="3.2"/>
<circle cx="2149.0" cy="1218.4" r="3.2"/>
<circle cx="2182.2" cy="1218.2" r="3.2"/>
<circle cx="2215.4" cy="1218.1" r="3.2"/>
<circle cx="2248.6" cy="1218.0" r="3.2"/>
<circle cx="2281.8" cy="1217.8" r="3.2"/>
<circle cx="2315.0" cy="1217.7" r="3.2"/>
<circle cx="2348.2" cy="1217.5" r="3.2"/>
<circle cx="2381.4" cy="1217.4" r="3.2"/>
<circle cx="1418.5" cy="1845.7" r="3.2"/>
<circle cx="1451.7" cy="1845.6" r="3.2"/>
<circle cx="1484.9" cy="1845.5" r="3.2"/>
<circle cx="1518.1" cy="1845.4" r="3.2"/>
<circle cx="1551.3" cy="1845.3" r="3.2"/>
<circle cx="1584.4" cy="1845.2" r="3.2"/>
<circle cx="1617.6" cy="1845.1" r="3.2"/>
<circle cx="1650.8" cy="1845.0" r="3.2"/>
<circle cx="1684.0" cy="1844.9" r="3.2"/>
<circle cx="1717.2" cy="1844.8" r="3.2"/>
<circle cx="1750.4" cy="1844.7" r="3.2"/>
<circle cx="1783.6" cy="1844.6" r="3.2"/>
<circle cx="1816.8" cy="1844.5" r="3.2"/>
<circle cx="1850.0" cy="1844.4" r="3.2"/>
<circle cx="1883.2" cy="1844.3" r="3.2"/>
<circle cx="1916.3" cy="1844.2" r="3.2"/>
<circle cx="1949.5" cy="1844.1" r="3.2"/>
<circle cx="1982.7" cy="1844.0" r="3.2"/>
<circle cx="2015.9" cy="1843.9" r="3.2"/>
<circle cx="2049.1" cy="1843.8" r="3.2"/>
<circle cx="2082.3" cy="1843.7" r="3.2"/>
<circle cx="2115.5" cy="1843.6" r="3.2"/>
<circle cx="2148.7" cy="1843.5" r="3.2"/>
<circle cx="2181.9" cy="1843.4" r="3.2"/>
<circle cx="2215.1" cy="1843.3" r="3.2"/>
<circle cx="2248.2" cy="1843.2" r="3.2"/>
<circle cx="2281.4" cy="1843.1" r="3.2"/>
<circle cx="2314.6" cy="1843.0" r="3.2"/>
<circle cx="2347.8" cy="1842.9" r="3.2"/>
<circle cx="2381.0" cy="1842.8" r="3.2"/>
<circle cx="1424.3" cy="2358.2" r="3.2"/>
<circle cx="1457.5" cy="2358.0" r="3.2"/>
<circle cx="1490.7" cy="2357.9" r="3.2"/>
<circle cx="1523.9" cy="2357.7" r="3.2"/>
<circle cx="1557.2" cy="2357.6" r="3.2"/>
<circle cx="1590.4" cy="2357.4" r="3.2"/>
<circle cx="1623.6" cy="2357.3" r="3.2"/>
<circle cx="1656.8" cy="2357.1" r="3.2"/>
<circle cx="1690.0" cy="2357.0" r="3.2"/>
<circle cx="1723.2" cy="2356.8" r="3.2"/>
<circle cx="1756.4" cy="2356.7" r="3.2"/>
<circle cx="1789.7" cy="2356.5" r="3.2"/>
<circle cx="1822.9" cy="2356.4" r="3.2"/>
<circle cx="1856.1" cy="2356.2" r="3.2"/>
<circle cx="1889.3" cy="2356.1" r="3.2"/>
<circle cx="1922.5" cy="2355.9" r="3.2"/>
<circle cx="1955.7" cy="2355.8" r="3.2"/>
<circle cx="1988.9" cy="2355.6" r="3.2"/>
<circle cx="2022.1" cy="2355.5" r="3.2"/>
<circle cx="2055.4" cy="2355.3" r="3.2"/>
<circle cx="2088.6" cy="2355.2" r="3.2"/>
<circle cx="2121.8" cy="2355.0" r="3.2"/>
<circle cx="2155.0" cy="2354.9" r="3.2"/>
<circle cx="2188.2" cy="2354.7" r="3.2"/>
<circle cx="2221.4" cy="2354.6" r="3.2"/>
<circle cx="2254.6" cy="2354.4" r="3.2"/>
<circle cx="2287.9" cy="2354.3" r="3.2"/>
<circle cx="2321.1" cy="2354.1" r="3.2"/>
<circle cx="2354.3" cy="2354.0" r="3.2"/>
<circle cx="2387.5" cy="2353.8" r="3.2"/>
</g>
</svg>
<div class="t h" style="left:1443.0px;top:487.6px;font-size:33px;letter-spacing:0.337px;word-spacing:8.77px;">GIRL SCOUT PIN</div>
<div class="t b" style="left:1443.0px;top:538.6px;font-size:33.6px;transform:scaleX(1.04);letter-spacing:0.857px;word-spacing:3.67px;">Trefoil pin. Signifies fulfillment</div>
<div class="t b" style="left:1443.0px;top:575.6px;font-size:33.6px;transform:scaleX(1.04);letter-spacing:0.366px;word-spacing:0.98px;">of membership requirements. Always pinned on knot of the</div>
<div class="t b" style="left:1443.0px;top:613.6px;font-size:33.6px;transform:scaleX(1.04);letter-spacing:0.724px;word-spacing:1.44px;">tie. May also be worn when not in uniform.</div>
<div class="t h" style="left:1445.0px;top:977.6px;font-size:33px;letter-spacing:0.135px;word-spacing:5.40px;">WORLD ASSOCIATION PIN</div>
<div class="t b" style="left:1447.0px;top:1026.6px;font-size:33.6px;transform:scaleX(1.04);letter-spacing:1.248px;word-spacing:3.52px;">Emblem of World Association of</div>
<div class="t b" style="left:1446.0px;top:1065.3px;font-size:33.6px;transform:scaleX(1.04);letter-spacing:0.718px;word-spacing:1.79px;">Girl Guides and Girl Scouts. Blue</div>
<div class="t b" style="left:1446.0px;top:1103.6px;font-size:33.6px;transform:scaleX(1.04);letter-spacing:1.305px;word-spacing:3.77px;">enameled circular pin worn centered just above breast</div>
<div class="t b" style="left:1446.0px;top:1141.6px;font-size:33.6px;transform:scaleX(1.04);letter-spacing:0.759px;word-spacing:1.62px;">pocket. May also be worn when not in uniform.</div>
<div class="t h" style="left:1449.5px;top:1529.6px;font-size:33px;letter-spacing:0.188px;word-spacing:15.04px;">IDENTIFICATION EMBLEM</div>
<div class="t b" style="left:1449.5px;top:1580.3px;font-size:33.6px;transform:scaleX(1.04);letter-spacing:1.223px;word-spacing:3.15px;">Curved strip embroidered with name of council; or with</div>
<div class="t b" style="left:1449.5px;top:1618.6px;font-size:33.6px;transform:scaleX(1.04);letter-spacing:0.649px;word-spacing:1.49px;">name of community for lone troops. Worn by all members</div>
<div class="t b" style="left:1449.5px;top:1656.6px;font-size:33.6px;transform:scaleX(1.04);letter-spacing:0.375px;word-spacing:0.85px;">of troop. Sewn on left shoulder of both green uniforms with</div>
<div class="t b" style="left:1449.5px;top:1694.6px;font-size:33.6px;transform:scaleX(1.04);letter-spacing:0.651px;word-spacing:1.64px;">bottom edge touching sleeve seam. When sewn on junior</div>
<div class="t b" style="left:1449.5px;top:1732.6px;font-size:33.6px;transform:scaleX(1.04);letter-spacing:0.775px;word-spacing:1.72px;">high badge sash it starts 3<span style="font-size:.62em;position:relative;top:-.42em;letter-spacing:-1px">1</span><span style="font-size:.8em">&#8260;</span><span style="font-size:.62em;position:relative;top:.1em">2</span> inches from shoulder and is</div>
<div class="t b" style="left:1449.5px;top:1770.6px;font-size:33.6px;transform:scaleX(1.04);letter-spacing:0.473px;word-spacing:1.59px;">angled upward towards neck.</div>
<div class="t h" style="left:1449.5px;top:2152.6px;font-size:33px;letter-spacing:0.280px;word-spacing:12.67px;">&#8220;GIRL SCOUTS U.S.A.&#8221; IDENTIFICATION</div>
<div class="t b" style="left:1449.5px;top:2202.6px;font-size:33.6px;transform:scaleX(1.04);letter-spacing:0.481px;word-spacing:1.33px;">Green strip with embroidered green letters and red, white,</div>
<div class="t b" style="left:1449.5px;top:2242.1px;font-size:33.6px;transform:scaleX(1.04);letter-spacing:0.425px;word-spacing:0.87px;">and blue shield. Always sewn on the left sleeve with top of</div>
<div class="t b" style="left:1449.5px;top:2279.2px;font-size:33.6px;transform:scaleX(1.04);letter-spacing:0.602px;word-spacing:2.05px;">insignia stitched along sleeve seam.</div>
<div class="t h" style="left:1453.6px;top:2628.6px;font-size:33px;letter-spacing:0.100px;word-spacing:5.19px;">TROOP NUMERALS</div>
<div class="t b" style="left:1453.6px;top:2677.0px;font-size:33.6px;transform:scaleX(1.04);letter-spacing:1.125px;word-spacing:4.08px;">White numerals embroidered on</div>
<div class="t b" style="left:1453.6px;top:2715.3px;font-size:33.6px;transform:scaleX(1.04);letter-spacing:0.841px;word-spacing:2.54px;">green. Indicates number of troop</div>
<div class="t b" style="left:1453.6px;top:2752.4px;font-size:33.6px;transform:scaleX(1.04);letter-spacing:0.467px;word-spacing:1.16px;">in community. Worn on left sleeve</div>
<div class="t b" style="left:1453.6px;top:2789.6px;font-size:33.6px;transform:scaleX(1.04);letter-spacing:0.907px;word-spacing:1.83px;">with top of emblem 2 inches below sleeve seam on both</div>
<div class="t b" style="left:1453.6px;top:2827.6px;font-size:33.6px;transform:scaleX(1.04);letter-spacing:0.277px;word-spacing:0.68px;">green uniforms; on junior high badge sash sewn 3<span style="font-size:.62em;position:relative;top:-.42em;letter-spacing:-1px">1</span><span style="font-size:.8em">&#8260;</span><span style="font-size:.62em;position:relative;top:.1em">2</span> inches</div>
<div class="t b" style="left:1453.6px;top:2865.6px;font-size:33.6px;transform:scaleX(1.04);letter-spacing:0.491px;word-spacing:1.53px;">below shoulder and centered below emblem.</div>
<div class="t cap" style="left:564.0px;top:1266.3px;font-size:31.5px;letter-spacing:1.710px;word-spacing:0.00px;">INTERMEDIATE</div>
<div class="t cap" style="left:471.0px;top:2680.9px;font-size:31.5px;letter-spacing:1.861px;word-spacing:6.20px;">ALTERNATE JUNIOR HIGH</div>
<div class="t it" style="left:197.0px;top:2778.8px;font-size:40.5px;transform:scaleX(1.06);letter-spacing:0.944px;word-spacing:8.24px;">On the short-sleeved green uniform all insignia are</div>
<div class="t it" style="left:197.0px;top:2825.1px;font-size:40.5px;transform:scaleX(1.06);letter-spacing:0.322px;word-spacing:2.41px;">placed just as they are on the long-sleeved uniform, ex-</div>
<div class="t it" style="left:197.0px;top:2871.6px;font-size:40.5px;transform:scaleX(1.06);letter-spacing:0.152px;word-spacing:0.95px;">cept that badges are worn on a badge sash.</div>
<div class="t pn" style="left:1343.0px;top:3063.6px;font-size:47px;">1</div>
<div class="t pn" style="left:1377.0px;top:3063.6px;font-size:47px;">0</div>
<div class="t big" style="left:1434.0px;top:187.6px;font-size:240px;transform:scale(1.347,0.988);">a</div>
<div class="t big" style="left:1441.0px;top:710.7px;font-size:240px;transform:scale(1.178,0.907);">b</div>
<div class="t big" style="left:1437.0px;top:1219.8px;font-size:240px;transform:scale(1.133,0.986);">c</div>
<div class="t big" style="left:1435.0px;top:1860.6px;font-size:240px;transform:scale(1.159,0.8685);">d</div>
<div class="t big" style="left:1444.6px;top:2356.5px;font-size:240px;transform:scale(1.298,0.97);">e</div>
<div class="t lab" style="left:675.3px;top:233.6px;font-size:66px;transform:scale(1.438,1.061);">a</div>
<div class="t lab" style="left:895.8px;top:242.8px;font-size:66px;transform:scale(1.177,0.896);">b</div>
<div class="t lab" style="left:972.8px;top:241.2px;font-size:66px;transform:scale(1.244,0.979);">c</div>
<div class="t lab" style="left:1110.5px;top:244.0px;font-size:66px;transform:scale(1.229,0.929);">d</div>
<div class="t lab" style="left:1242.6px;top:528.4px;font-size:66px;transform:scale(1.370,0.939);">e</div>
<div class="t lab" style="left:1248.0px;top:707.7px;font-size:66px;transform:scale(1.174,0.917);">f</div>
<div class="t lab" style="left:1238.6px;top:1003.0px;font-size:66px;transform:scale(1.406,0.900);">g</div>
<div class="t lab" style="left:1152.1px;top:1322.0px;font-size:66px;transform:scale(1.414,0.994);">h</div>
<div class="t lab" style="left:137.4px;top:1217.4px;font-size:66px;transform:scale(1.588,0.948);">i</div>
<div class="t lab" style="left:145.9px;top:660.8px;font-size:66px;transform:scale(1.240,0.903);">j</div>
<div class="t lab" style="left:155.0px;top:388.4px;font-size:66px;transform:scale(1.281,0.908);">k</div>
<div class="t lab" style="left:164.8px;top:1752.2px;font-size:66px;transform:scale(1.222,0.936);">c</div>
<div class="t lab" style="left:393.5px;top:1692.3px;font-size:66px;transform:scale(1.256,0.902);">k</div>
<div class="t lab" style="left:545.9px;top:1674.8px;font-size:66px;transform:scale(1.353,0.912);">g</div>
<div class="t lab" style="left:684.0px;top:1686.2px;font-size:66px;transform:scale(1.353,0.936);">a</div>
<div class="t lab" style="left:850.5px;top:1687.7px;font-size:66px;transform:scale(1.117,0.908);">b</div>
<div class="t lab" style="left:1085.0px;top:1687.7px;font-size:66px;transform:scale(1.237,0.908);">d</div>
<div class="t lab" style="left:1250.6px;top:2017.4px;font-size:66px;transform:scale(1.366,0.906);">g</div>
<div class="t lab" style="left:1250.6px;top:2197.3px;font-size:66px;transform:scale(1.371,0.902);">h</div>
<div class="t lab" style="left:1255.1px;top:2483.8px;font-size:66px;transform:scale(1.441,0.906);">i</div>
<div class="t lab" style="left:370.0px;top:2549.4px;font-size:66px;transform:scale(1.261,0.948);">f</div>
<div class="t lab" style="left:144.5px;top:2259.0px;font-size:66px;transform:scale(1.235,0.871);">j</div>
<div class="t lab" style="left:121.3px;top:2121.7px;font-size:66px;transform:scale(1.448,1.000);">e</div>
</div></body></html>
